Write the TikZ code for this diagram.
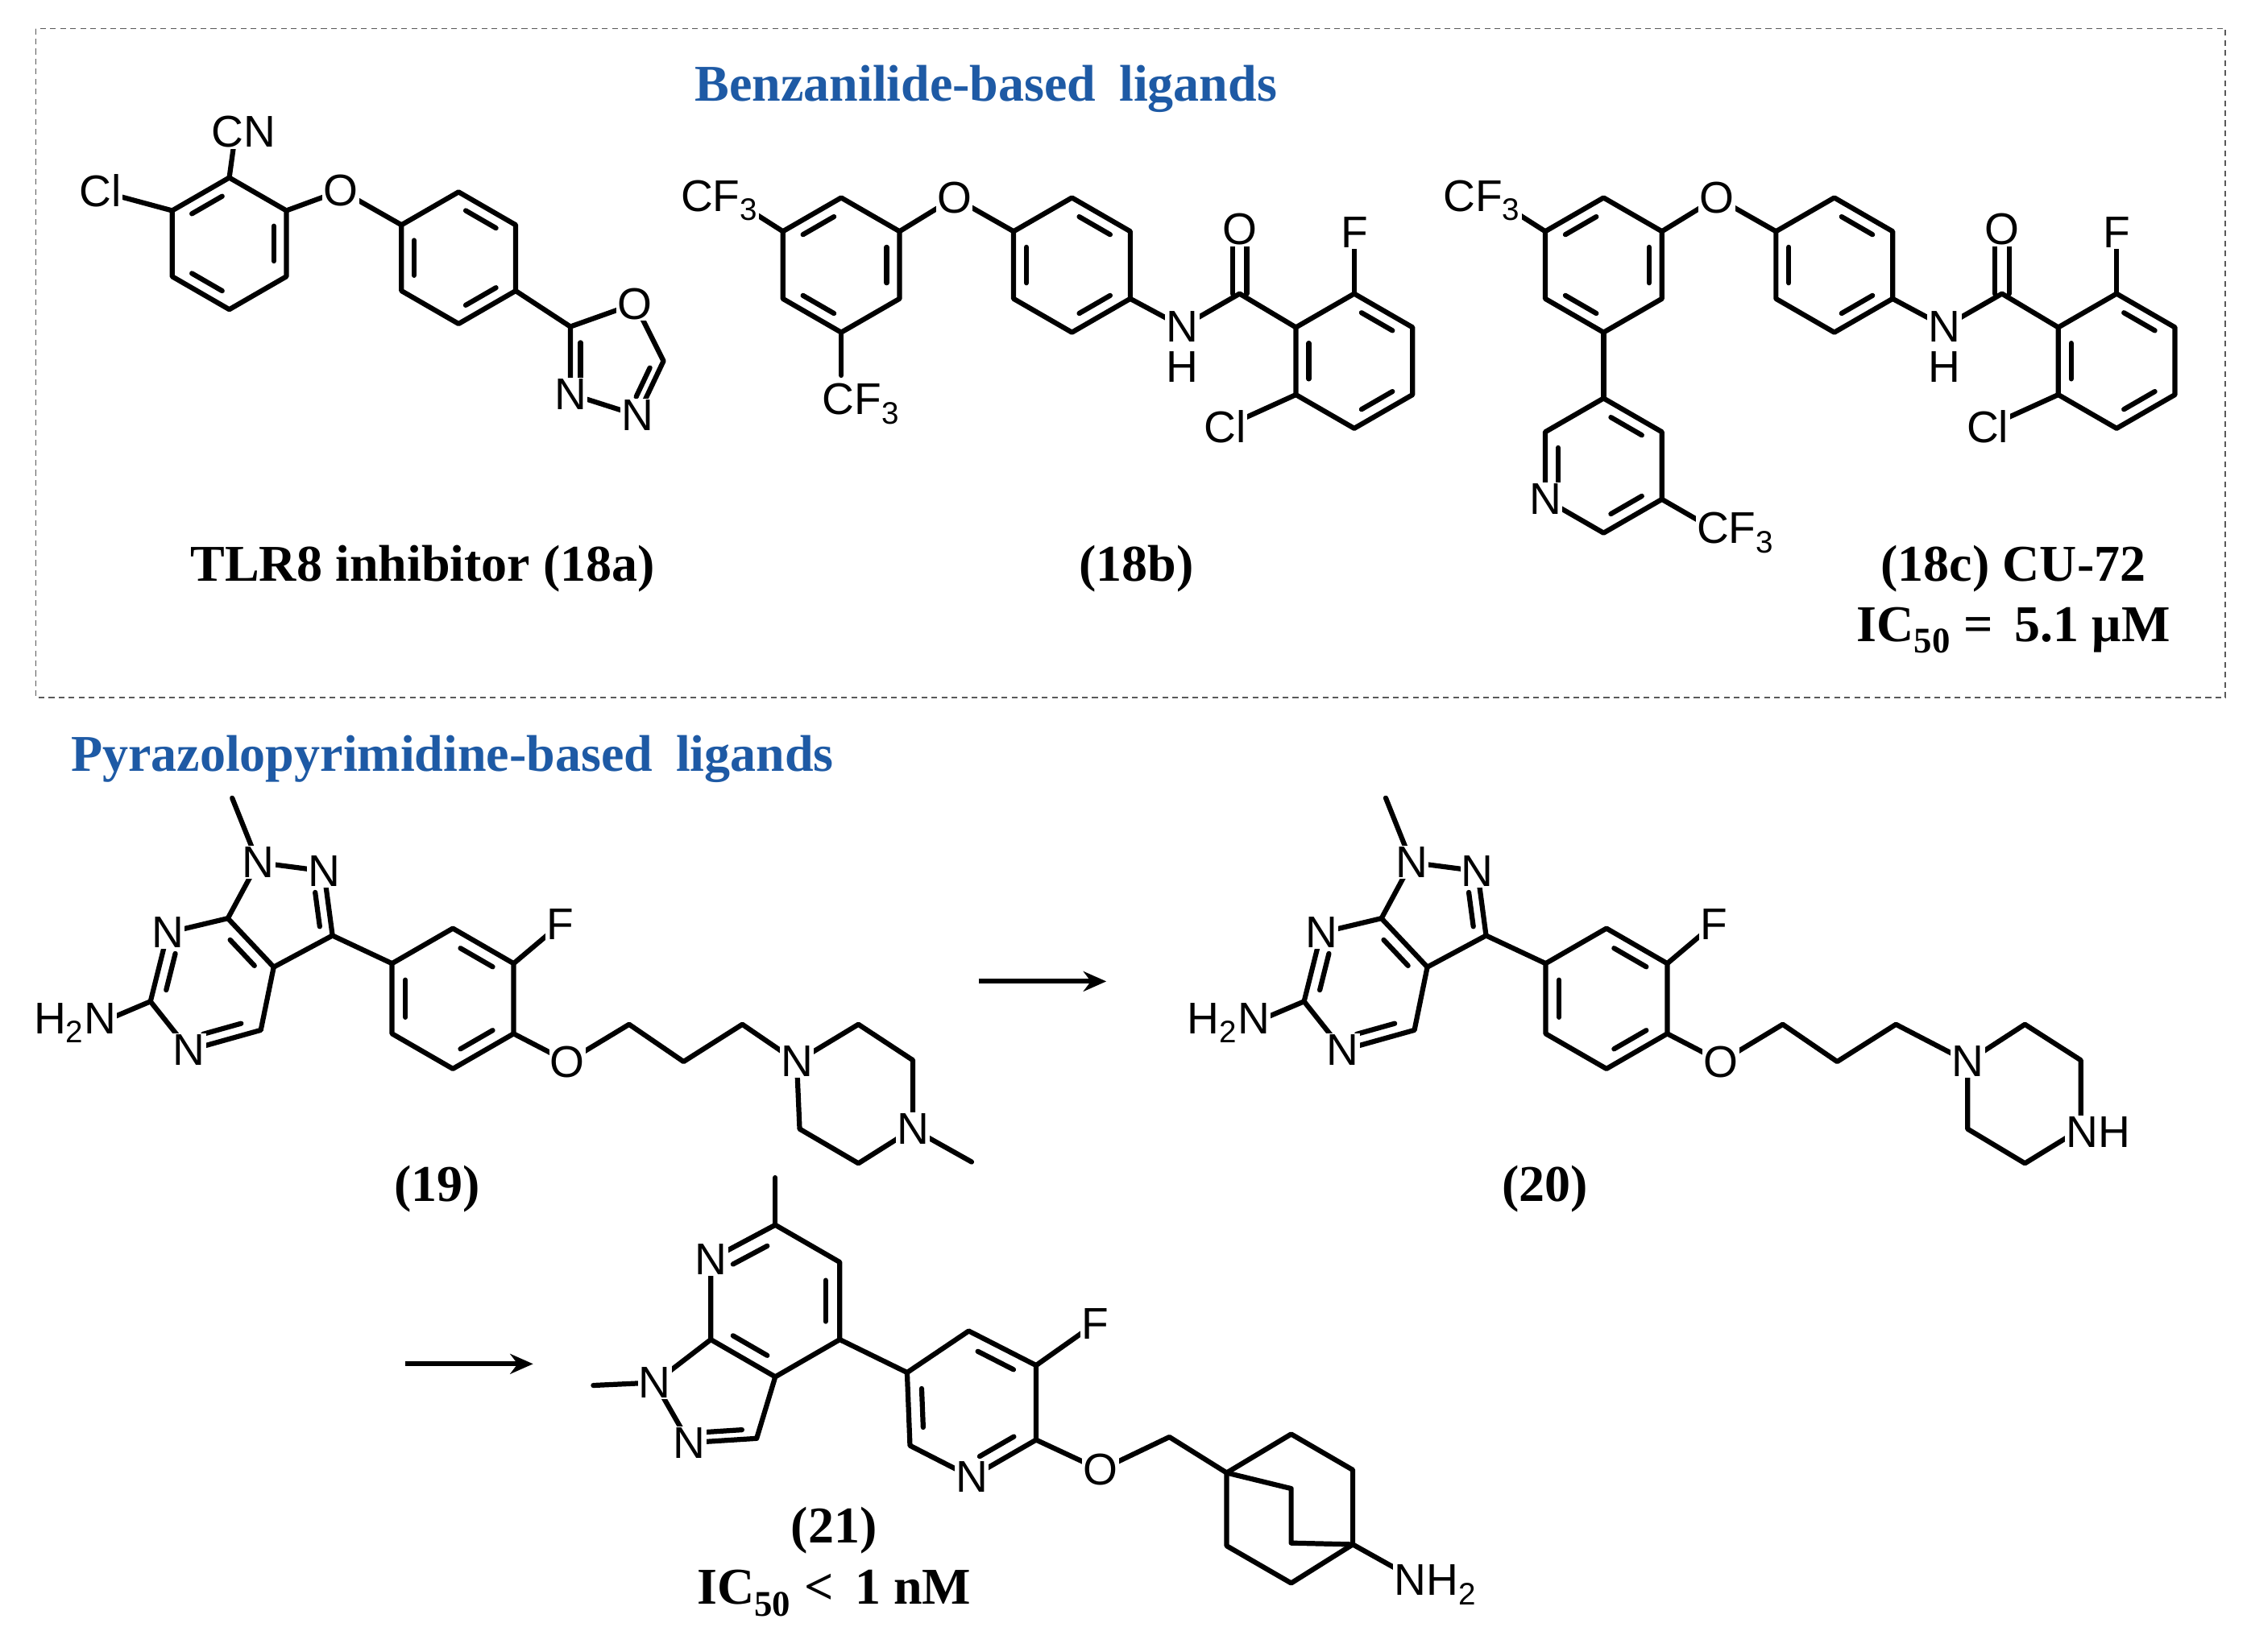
\documentclass[tikz,border=0pt]{standalone}
\usepackage{fontspec}
\setmainfont{Liberation Serif}
\newfontfamily\atomf{Liberation Sans}
\newfontfamily\ttlfont[WordSpace=1.8]{Liberation Serif}
\usetikzlibrary{calc,arrows.meta}
\definecolor{ttl}{RGB}{30,90,165}
\newcommand\hexa[4]{%
 \coordinate (#1c) at (#2,#3);
 \coordinate (#11) at (#2,{#3-#4});
 \coordinate (#12) at ({#2+0.866*#4},{#3-0.5*#4});
 \coordinate (#13) at ({#2+0.866*#4},{#3+0.5*#4});
 \coordinate (#14) at (#2,{#3+#4});
 \coordinate (#15) at ({#2-0.866*#4},{#3+0.5*#4});
 \coordinate (#16) at ({#2-0.866*#4},{#3-0.5*#4});
 \draw[bond] (#11)--(#12)--(#13)--(#14)--(#15)--(#16)--cycle;}
\newcommand\db[3]{\draw[bond] ($($(#1)!0.16!(#2)$)!0.22!(#3)$) -- ($($(#2)!0.16!(#1)$)!0.22!(#3)$);}
\newcommand\pyrcore{%
 \coordinate (me) at (162,557); \coordinate (n1) at (180,602); \coordinate (n2) at (226,608);
 \coordinate (c3) at (232,653); \coordinate (c3a) at (191,675); \coordinate (c7a) at (159,641);
 \coordinate (n7) at (117,651); \coordinate (c6) at (105,699); \coordinate (n5) at (132,733);
 \coordinate (c4) at (182,719); \coordinate (pc) at (195,650); \coordinate (qc) at (148,690);
 \coordinate (nh) at (72,713);
 \draw[bond] (me)--(n1)--(n2)--(c3)--(c3a)--(c7a)--(n1);
 \draw[bond] (c7a)--(n7)--(c6)--(n5)--(c4)--(c3a);
 \draw[bond] (c6)--(nh);
 \db{n2}{c3}{pc}\db{c7a}{c3a}{qc}\db{n7}{c6}{qc}\db{n5}{c4}{qc}
 \hexa{p}{316}{697}{49}
 \db{p5}{p6}{pc}\db{p1}{p2}{pc}\db{p3}{p4}{pc}
 \coordinate (fx) at (391,645); \coordinate (ox) at (396,741);
 \draw[bond] (c3)--(p6); \draw[bond] (p2)--(fx); \draw[bond] (p3)--(ox);
}
\newcommand\pyrlabels{%
 \node[atm] (ln1) at (n1) {N}; \node[atm] (ln2) at (n2) {N};
 \node[atm] (ln7) at (n7) {N}; \node[atm] (ln5) at (n5) {N};
 \node[atm,anchor=east] (lnh) at (82,714) {H\textsubscript{2}N};
 \node[atm] (lf) at (fx) {F}; \node[atm] (lo) at (ox) {O};
}
\begin{document}
\begin{tikzpicture}[x=1pt,y=-1pt,
 bond/.style={line width=3.5pt,line join=round,line cap=round},
 atm/.style={font=\atomf\fontsize{31}{34}\selectfont,fill=white,inner sep=0.8pt},
 lbl/.style={font=\bfseries\fontsize{36}{40}\selectfont},
 ttlst/.style={font=\ttlfont\bfseries\fontsize{36}{40}\selectfont,text=ttl},
 rxn/.style={line width=3.3pt,-{Stealth[length=16pt,width=14pt]}}]
\useasboundingbox (0,0) rectangle (1568,1153);
\fill[white] (0,0) rectangle (1568,1153);
\draw[gray!70!black,line width=1pt,dash pattern=on 4pt off 3pt] (25,20) rectangle (1553,487);
\node[ttlst] (t1) at (688,62) {Benzanilide-based ligands};
\node[ttlst,anchor=west] (t2) at (46,530) {Pyrazolopyrimidine-based ligands};

% ---- 18a
\hexa{a}{160}{170}{46}
\db{a2}{a3}{ac}\db{a4}{a5}{ac}\db{a6}{a1}{ac}
\coordinate (cn) at (164,95); \coordinate (cl) at (72,134); \coordinate (o1) at (238,133);
\hexa{b}{320}{180}{46}
\db{b1}{b2}{bc}\db{b3}{b4}{bc}\db{b5}{b6}{bc}
\coordinate (x2) at (398,228); \coordinate (xo) at (443,212); \coordinate (x5) at (463,252);
\coordinate (x4) at (445,290); \coordinate (x3) at (398,275); \coordinate (xc) at (430,252);
\draw[bond] (a1)--(cn); \draw[bond] (a6)--(cl); \draw[bond] (a2)--(o1)--(b6);
\draw[bond] (b3)--(x2);
\draw[bond] (x2)--(xo)--(x5)--(x4)--(x3)--cycle;
\db{x2}{x3}{xc}\db{x5}{x4}{xc}
\node[atm] (lcn) at (170,92) {CN}; \node[atm] (lcl) at (70,133) {Cl}; \node[atm] (lo1) at (o1) {O};
\node[atm] (lxo) at (xo) {O}; \node[atm] (lx4) at (x4) {N}; \node[atm] (lx3) at (x3) {N};
\node[lbl] (n18a) at (295,397) {TLR8 inhibitor (18a)};

% ---- 18b
\hexa{c}{587}{185}{47}
\db{c2}{c3}{cc}\db{c4}{c5}{cc}\db{c6}{c1}{cc}
\coordinate (cfa) at (522,146); \coordinate (cfb) at (587,262); \coordinate (o2) at (666,138);
\hexa{d}{748}{185}{47}
\db{d1}{d2}{dc}\db{d3}{d4}{dc}\db{d5}{d6}{dc}
\coordinate (nb) at (825,228); \coordinate (cb) at (865,205); \coordinate (ob) at (865,160);
\hexa{e}{945}{252}{47}
\db{e1}{e2}{ec}\db{e3}{e4}{ec}\db{e5}{e6}{ec}
\coordinate (fb) at (945,162); \coordinate (clb) at (868,292);
\draw[bond] (c6)--(cfa); \draw[bond] (c4)--(cfb); \draw[bond] (c2)--(o2)--(d6);
\draw[bond] (d3)--(nb)--(cb)--(e6); \draw[bond] (e1)--(fb); \draw[bond] (e5)--(clb);
\draw[bond] ($(cb)+(-5,0)$)--($(ob)+(-5,0)$); \draw[bond] ($(cb)+(5,0)$)--($(ob)+(5,0)$);
\node[atm,anchor=east] (lcfa) at (530,140) {CF\textsubscript{3}};
\node[atm,anchor=west] (lcfb) at (573,282) {CF\textsubscript{3}};
\node[atm] (lo2) at (o2) {O}; \node[atm] (lnb) at (nb) {N}; \node[atm,fill=none] (lhb) at (825,256) {H};
\node[atm] (lob) at (ob) {O}; \node[atm] (lfb) at (fb) {F}; \node[atm] (lclb) at (855,298) {Cl};
\node[lbl] (n18b) at (793,397) {(18b)};

% ---- 18c
\hexa{f}{1119}{185}{47}
\db{f2}{f3}{fc}\db{f4}{f5}{fc}\db{f6}{f1}{fc}
\coordinate (cfc) at (1054,146); \coordinate (o3) at (1198,138);
\hexa{g}{1280}{185}{47}
\db{g1}{g2}{gc}\db{g3}{g4}{gc}\db{g5}{g6}{gc}
\coordinate (nc) at (1357,228); \coordinate (cc2) at (1397,205); \coordinate (oc) at (1397,160);
\hexa{h}{1477}{252}{47}
\db{h1}{h2}{hc}\db{h3}{h4}{hc}\db{h5}{h6}{hc}
\coordinate (fc2) at (1477,162); \coordinate (clc) at (1400,292);
\hexa{i}{1119}{325}{47}
\db{i1}{i2}{ic}\db{i3}{i4}{ic}\db{i5}{i6}{ic}
\coordinate (cfd) at (1190,366);
\draw[bond] (f6)--(cfc); \draw[bond] (f2)--(o3)--(g6); \draw[bond] (f4)--(i1); \draw[bond] (i3)--(cfd);
\draw[bond] (g3)--(nc)--(cc2)--(h6); \draw[bond] (h1)--(fc2); \draw[bond] (h5)--(clc);
\draw[bond] ($(cc2)+(-5,0)$)--($(oc)+(-5,0)$); \draw[bond] ($(cc2)+(5,0)$)--($(oc)+(5,0)$);
\node[atm,anchor=east] (lcfc) at (1062,140) {CF\textsubscript{3}};
\node[atm] (lo3) at (o3) {O}; \node[atm] (lnc) at (nc) {N}; \node[atm,fill=none] (lhc) at (1357,256) {H};
\node[atm] (loc) at (oc) {O}; \node[atm] (lfc) at (fc2) {F}; \node[atm] (lclc) at (1387,298) {Cl};
\node[atm] (lni) at (i5) {N};
\node[atm,anchor=west] (lcfd) at (1183,372) {CF\textsubscript{3}};
\node[lbl] (n18c) at (1405,397) {(18c) CU-72};
\node[lbl] (ic18) at (1405,440) {IC\textsubscript{50} =\, 5.1 μM};

% ---- 19
\pyrcore
\coordinate (k1) at (439,715); \coordinate (k2) at (477,741); \coordinate (k3) at (518,715);
\coordinate (pn1) at (556,741); \coordinate (pa) at (599,715); \coordinate (pb) at (637,740);
\coordinate (pn4) at (637,788); \coordinate (pd) at (599,812); \coordinate (pe) at (558,788);
\coordinate (pm) at (678,811);
\draw[bond] (ox)--(k1)--(k2)--(k3)--(pn1)--(pa)--(pb)--(pn4)--(pd)--(pe)--(pn1);
\draw[bond] (pn4)--(pm);
\pyrlabels
\node[atm] (lpn1) at (pn1) {N}; \node[atm] (lpn4) at (pn4) {N};
\node[lbl] (n19) at (305,830) {(19)};

% ---- arrow 1
\coordinate (ar1a) at (683,685); \coordinate (ar1b) at (772,685);
\draw[rxn] (ar1a)--(ar1b);

% ---- 20
\begin{scope}[shift={(805,0)}]
\pyrcore
\coordinate (k1) at (439,715); \coordinate (k2) at (477,741); \coordinate (k3) at (518,715);
\coordinate (pn1) at (568,741); \coordinate (pa) at (608,715); \coordinate (pb) at (647,740);
\coordinate (pn4) at (647,788); \coordinate (pd) at (608,812); \coordinate (pe) at (568,788);
\draw[bond] (ox)--(k1)--(k2)--(k3)--(pn1)--(pa)--(pb)--(pn4)--(pd)--(pe)--(pn1);
\pyrlabels
\node[atm] (lpn1) at (pn1) {N};
\node[atm,anchor=west] (lpnh) at (636,790) {NH};
\node[lbl] (n20) at (273,830) {(20)};
\end{scope}

% ---- arrow 2
\coordinate (ar2a) at (283,952); \coordinate (ar2b) at (372,952);
\draw[rxn] (ar2a)--(ar2b);

% ---- 21
\coordinate (m6) at (541,822); \coordinate (r6) at (541,855); \coordinate (r7) at (496,879);
\coordinate (r5) at (586,881); \coordinate (r4) at (586,935); \coordinate (r3a) at (541,961);
\coordinate (r7a) at (496,935); \coordinate (r1) at (457,965); \coordinate (m1) at (414,967);
\coordinate (r2) at (481,1007); \coordinate (r3) at (528,1004);
\coordinate (rc) at (541,908); \coordinate (sc) at (508,975);
\draw[bond] (r6)--(r7)--(r7a)--(r3a)--(r4)--(r5)--cycle;
\draw[bond] (r7a)--(r1)--(r2)--(r3)--(r3a); \draw[bond] (r1)--(m1);
\draw[bond] (r6)--(m6);
\db{r7}{r6}{rc}\db{r5}{r4}{rc}\db{r7a}{r3a}{rc}\db{r2}{r3}{sc}
\coordinate (u1) at (633,958); \coordinate (u2) at (676,929); \coordinate (u3) at (723,953);
\coordinate (u4) at (723,1005); \coordinate (u5) at (678,1031); \coordinate (u6) at (635,1009);
\coordinate (uc) at (678,980);
\draw[bond] (u1)--(u2)--(u3)--(u4)--(u5)--(u6)--cycle;
\db{u2}{u3}{uc}\db{u4}{u5}{uc}\db{u6}{u1}{uc}
\coordinate (fz) at (764,924); \coordinate (oz) at (768,1026); \coordinate (ch) at (816,1003);
\coordinate (b1) at (856,1028); \coordinate (bt1) at (901,1001); \coordinate (bt2) at (944,1026);
\coordinate (b4) at (944,1078); \coordinate (bb1) at (856,1079); \coordinate (bb2) at (901,1105);
\coordinate (bm1) at (901,1039); \coordinate (bm2) at (901,1077); \coordinate (nz) at (978,1097);
\draw[bond] (r4)--(u1); \draw[bond] (u3)--(fz); \draw[bond] (u4)--(oz)--(ch)--(b1);
\draw[bond] (b1)--(bt1)--(bt2)--(b4)--(bb2)--(bb1)--(b1);
\draw[bond] (b1)--(bm1)--(bm2)--(b4); \draw[bond] (b4)--(nz);
\node[atm] (lr7) at (r7) {N}; \node[atm] (lr1) at (r1) {N}; \node[atm] (lr2) at (r2) {N};
\node[atm] (lu5) at (u5) {N}; \node[atm] (lfz) at (fz) {F}; \node[atm] (loz) at (oz) {O};
\node[atm,anchor=west] (lnz) at (972,1106) {NH\textsubscript{2}};
\node[lbl] (n21) at (582,1068) {(21)};
\node[lbl] (ic21) at (582,1112) {IC\textsubscript{50} <\, 1 nM};
\end{tikzpicture}
\end{document}
